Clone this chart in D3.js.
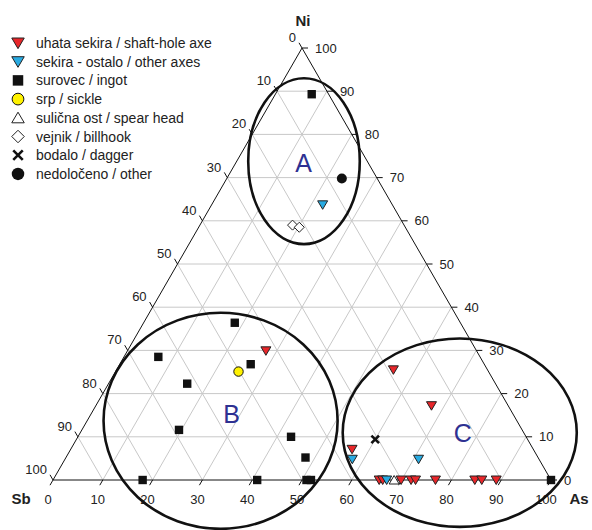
<!DOCTYPE html>
<html>
<head>
<meta charset="utf-8">
<script src="https://cdn.jsdelivr.net/npm/d3@7"></script>
<style>
  body { margin: 0; background: #fff; }
  text { font-family: Arial, "Liberation Sans", sans-serif; fill: #222; }
</style>
</head>
<body>
<div id="chart"></div>
<script>
// ternary values as [As, Ni] (Sb = 100 - As - Ni)
var shaftHoleAxe = [[27.8, 29.9], [55.6, 25.5], [67.4, 17.2], [56.5, 7.1], [65.5, 0], [66.2, 0],
    [69.9, 0], [71.9, 0], [72.8, 0], [76.8, 0], [84.7, 0], [86.1, 0], [89.0, 0]];
var otherAxes = [[22.3, 63.7], [57.7, 4.8], [71.0, 4.8], [67.0, 0]];
var ingot = [[7.3, 89.3], [18.3, 36.4], [6.9, 28.5], [26.3, 26.8], [15.8, 22.3], [19.5, 11.6],
    [42.8, 10.0], [48.1, 5.2], [18.0, 0], [41.0, 0], [50.9, 0], [51.8, 0], [100, 0]];
var sickle = [[24.7, 25.1]];
var spearHead = [[68.5, 0]];
var billhook = [[18.6, 59.0], [20.2, 58.5]];
var dagger = [[60.0, 9.4]];
var other = [[23.1, 69.8]];

var ticks = [0, 10, 20, 30, 40, 50, 60, 70, 80, 90, 100];

// groups: name, centre [As, Ni], radii in percent units
var groups = [
    {name: "A", c: [13.5, 73.8], rx: 11.2, ry: 19.2, label: [13.6, 73.4]},
    {name: "B", c: [26.8, 13.7], rx: 23.5, ry: 25.0, label: [28.2, 15.3]},
    {name: "C", c: [76.2, 10.95], rx: 23.5, ry: 21.8, label: [76.9, 10.8]}
];

var legendItems = [
    {text: "uhata sekira / shaft-hole axe", type: "down", fill: "#e8262a"},
    {text: "sekira - ostalo / other axes", type: "down", fill: "#29abe2"},
    {text: "surovec / ingot", type: "square", fill: "#111"},
    {text: "srp / sickle", type: "circle", fill: "#fff200"},
    {text: "sulična ost / spear head", type: "up", fill: "#fff"},
    {text: "vejnik / billhook", type: "diamond", fill: "#fff"},
    {text: "bodalo / dagger", type: "cross", fill: "#111"},
    {text: "nedoločeno / other", type: "dot", fill: "#111"}
];

var width = 592, height = 530;

var svg = d3.select('#chart')
    .append('svg')
    .attr('width', width)
    .attr('height', height);

// x scale maps (As + Ni/2), y scale maps Ni
var x_scale = d3.scaleLinear().domain([0, 100]).range([53, 551]);
var y_scale = d3.scaleLinear().domain([0, 100]).range([480, 48]);

function proj(as, ni) {
    return [x_scale(as + ni / 2), y_scale(ni)];
}
function pt(sb, as, ni) { return proj(as, ni); }

var line = d3.line();

// grid lines
var grid = svg.append('g').attr('stroke', '#c8c8c8').attr('stroke-width', 1).attr('fill', 'none');
ticks.slice(1, -1).forEach(function(v) {
    // constant Ni (horizontal)
    grid.append('path').attr('d', line([proj(0, v), proj(100 - v, v)]));
    // constant As
    grid.append('path').attr('d', line([proj(v, 0), proj(v, 100 - v)]));
    // constant Sb
    grid.append('path').attr('d', line([proj(100 - v, 0), proj(0, 100 - v)]));
});

// triangle edges
svg.append('path')
    .attr('d', line([proj(0, 0), proj(100, 0), proj(0, 100)]) + 'Z')
    .attr('fill', 'none')
    .attr('stroke', '#111')
    .attr('stroke-width', 1);

// ticks + labels
var tickLen = 6;
var axisG = svg.append('g');
ticks.forEach(function(v) {
    // bottom axis: As
    var b = proj(v, 0);
    axisG.append('line').attr('x1', b[0]).attr('y1', b[1])
        .attr('x2', b[0] - tickLen * 0.5).attr('y2', b[1] + tickLen * 0.866)
        .attr('stroke', '#111');
    axisG.append('text').attr('x', b[0] - 5).attr('y', 499)
        .attr('text-anchor', 'middle').attr('dominant-baseline', 'central')
        .attr('font-size', 13).text(v);
    // right axis: Ni
    var r = proj(100 - v, v);
    axisG.append('line').attr('x1', r[0]).attr('y1', r[1])
        .attr('x2', r[0] + tickLen).attr('y2', r[1])
        .attr('stroke', '#111');
    axisG.append('text').attr('x', r[0] + 13).attr('y', r[1])
        .attr('dominant-baseline', 'central')
        .attr('font-size', 13).text(v);
    // left axis: Sb
    var l = proj(0, 100 - v);
    axisG.append('line').attr('x1', l[0]).attr('y1', l[1])
        .attr('x2', l[0] - tickLen * 0.5).attr('y2', l[1] - tickLen * 0.866)
        .attr('stroke', '#111');
    axisG.append('text').attr('x', l[0] - 6).attr('y', l[1] - 10.5)
        .attr('text-anchor', 'end').attr('dominant-baseline', 'central')
        .attr('font-size', 13).text(v);
});

// axis titles
var apex = proj(0, 100);
svg.append('text').attr('x', apex[0] + 1).attr('y', 20).attr('text-anchor', 'middle')
    .attr('dominant-baseline', 'central').attr('font-size', 15).attr('font-weight', 'bold').text('Ni');
svg.append('text').attr('x', 21).attr('y', 498).attr('text-anchor', 'middle')
    .attr('dominant-baseline', 'central').attr('font-size', 15).attr('font-weight', 'bold').text('Sb');
svg.append('text').attr('x', 579).attr('y', 498).attr('text-anchor', 'middle')
    .attr('dominant-baseline', 'central').attr('font-size', 15).attr('font-weight', 'bold').text('As');

// group ellipses
var kx = (x_scale(100) - x_scale(0)) / 100;
var ky = (y_scale(0) - y_scale(100)) / 100;
groups.forEach(function(g) {
    var c = proj(g.c[0], g.c[1]);
    svg.append('ellipse')
        .attr('cx', c[0]).attr('cy', c[1])
        .attr('rx', g.rx * kx).attr('ry', g.ry * ky)
        .attr('fill', 'none').attr('stroke', '#111').attr('stroke-width', 2.6);
    var t = proj(g.label[0], g.label[1]);
    svg.append('text').attr('x', t[0]).attr('y', t[1])
        .attr('text-anchor', 'middle').attr('dominant-baseline', 'central')
        .attr('font-size', 25).style('fill', '#2e3192').text(g.name);
});

// marker shapes (s = size)
function shapePath(type, s) {
    if (type == "down") return 'M' + (-s / 2) + ',' + (-s * 0.4) + 'L' + (s / 2) + ',' + (-s * 0.4) + 'L0,' + (s * 0.45) + 'Z';
    if (type == "up") return 'M' + (-s / 2) + ',' + (s * 0.4) + 'L' + (s / 2) + ',' + (s * 0.4) + 'L0,' + (-s * 0.45) + 'Z';
    if (type == "square") return 'M' + (-s * 0.42) + ',' + (-s * 0.42) + 'h' + (s * 0.84) + 'v' + (s * 0.84) + 'h' + (-s * 0.84) + 'Z';
    if (type == "diamond") return 'M0,' + (-s / 2) + 'L' + (s / 2) + ',0L0,' + (s / 2) + 'L' + (-s / 2) + ',0Z';
    if (type == "cross") { var h = s * 0.38; return 'M' + (-h) + ',' + (-h) + 'L' + h + ',' + h + 'M' + h + ',' + (-h) + 'L' + (-h) + ',' + h; }
    return null;
}

function drawMarker(sel, type, fill, s) {
    if (type == "circle" || type == "dot") {
        sel.append('circle').attr('r', type == "dot" ? s * 0.5 : s * 0.47)
            .attr('fill', fill).attr('stroke', '#111').attr('stroke-width', type == "dot" ? 0 : 1);
    } else if (type == "cross") {
        sel.append('path').attr('d', shapePath(type, s))
            .attr('fill', 'none').attr('stroke', '#111').attr('stroke-width', 2.6);
    } else if (type == "square") {
        sel.append('path').attr('d', shapePath(type, s)).attr('fill', fill);
    } else {
        sel.append('path').attr('d', shapePath(type, s))
            .attr('fill', fill).attr('stroke', '#222').attr('stroke-width', 1)
            .attr('stroke-linejoin', 'miter');
    }
}

var series = [
    {data: ingot, type: "square", fill: "#111"},
    {data: billhook, type: "diamond", fill: "#fff"},
    {data: spearHead, type: "up", fill: "#fff"},
    {data: shaftHoleAxe, type: "down", fill: "#e8262a"},
    {data: otherAxes, type: "down", fill: "#29abe2"},
    {data: sickle, type: "circle", fill: "#fff200"},
    {data: dagger, type: "cross", fill: "#111"},
    {data: other, type: "dot", fill: "#111"}
];

series.forEach(function(s) {
    svg.append('g').selectAll('g')
        .data(s.data)
        .enter()
        .append('g')
        .attr('transform', function(d) {
            var p = proj(d[0], d[1]);
            return 'translate(' + p[0] + ',' + p[1] + ')';
        })
        .each(function() { drawMarker(d3.select(this), s.type, s.fill, s.type == "circle" ? 10 : 10); });
});

// legend
var legend = svg.selectAll('.legend').data(legendItems)
    .enter().append('g')
    .attr('class', 'legend')
    .attr('transform', function(d, i) {
        return 'translate(18,' + (43 + i * 18.7) + ')';
    });

legend.each(function(d) { drawMarker(d3.select(this), d.type, d.fill, 12.5); });

legend.append('text')
    .attr('x', 18)
    .attr('dominant-baseline', 'central')
    .attr('font-size', 14)
    .text(function(d) { return d.text; });
</script>
</body>
</html>
